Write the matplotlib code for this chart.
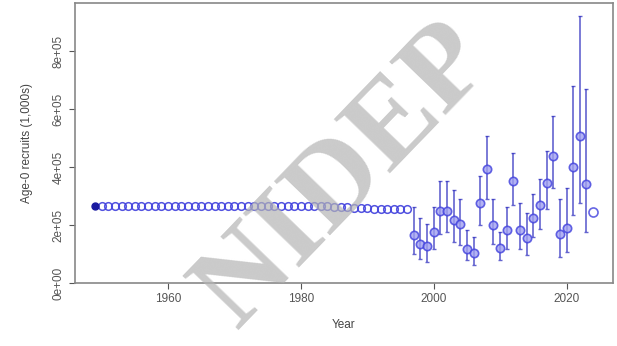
import numpy as np
import matplotlib.pyplot as plt

plt.rcParams['font.family'] = ['Liberation Sans', 'DejaVu Sans']

# early years: fixed recruitment before the data period
early_years = list(range(1949, 1997))
early_rec = [266000] * 36 + [263000, 262000, 261000, 260000, 259000, 258000,
                             257000, 257000, 256000, 256000, 255000, 255000]

# estimated recruitment with intervals
years = list(range(1997, 2025))
rec = [167000, 136000, 129000, 177000, 250000, 250000, 219000, 205000,
       118000, 104000, 275000, 393000, 202000, 122000, 184000, 351000,
       184000, 157000, 226000, 268000, 344000, 438000, 170000, 191000,
       400000, 508000, 341000, 247000]
lo = [101000, 84000, 73000, 118000, 170000, 177000, 143000, 132000,
      80000, 63000, 202000, 292000, 136000, 80000, 118000, 271000,
      118000, 97000, 160000, 188000, 257000, 327000, 90000, 108000,
      236000, 275000, 177000, 247000]
hi = [264000, 223000, 205000, 264000, 351000, 351000, 323000, 292000,
      184000, 160000, 369000, 508000, 292000, 177000, 264000, 449000,
      275000, 243000, 306000, 358000, 456000, 577000, 289000, 327000,
      682000, 922000, 671000, 247000]

fig = plt.figure(figsize=(6.17, 3.46), dpi=100)
ax = fig.add_axes([0.1216, 0.182, 0.872, 0.809])

blue = '#4040dd'
ax.plot(early_years[1:], early_rec[1:], 'o', ms=5.5, mfc='none',
        mec=blue, mew=1.1, alpha=0.9)
ax.plot(early_years[:1], early_rec[:1], 'o', ms=5, color='#1a1aa0')

rec_a = np.array(rec)
yerr = [rec_a - np.array(lo), np.array(hi) - rec_a]
ax.errorbar(years[:-1], rec[:-1], yerr=[yerr[0][:-1], yerr[1][:-1]],
            fmt='none', ecolor='#3030c0', elinewidth=1.2, capsize=1.2,
            alpha=0.75)
ax.plot(years[:-1], rec[:-1], 'o', ms=6, mfc='#a0a0f0', mec=blue,
        mew=1.2, alpha=0.8)
ax.plot(years[-1:], rec[-1:], 'o', ms=6.5, mfc='none', mec=blue, mew=1.2,
        alpha=0.8)

ax.set_xlim(1946, 2027)
ax.set_ylim(0, 967000)
ax.set_xticks([1960, 1980, 2000, 2020])
yt = [0, 200000, 400000, 600000, 800000]
ax.set_yticks(yt)
ax.set_yticklabels(['0e+00', '2e+05', '4e+05', '6e+05', '8e+05'],
                   rotation=90, va='center')
ax.tick_params(labelsize=8.5, colors='#555555', length=4, width=0.8)
for s in ax.spines.values():
    s.set_color('#888888')
    s.set_linewidth(1.2)
ax.set_xlabel('Year', fontsize=8.5, color='#444444', labelpad=10)
ax.set_ylabel('Age-0 recruits (1,000s)', fontsize=8.5, color='#444444',
              labelpad=14)

fig.text(0.56, 0.49, 'NIDEP', fontsize=86, fontweight='bold',
         family='Liberation Serif', color='#b4b4b4', alpha=0.7,
         rotation=46, ha='center', va='center', zorder=10)

fig.savefig('out.png', dpi=100)
